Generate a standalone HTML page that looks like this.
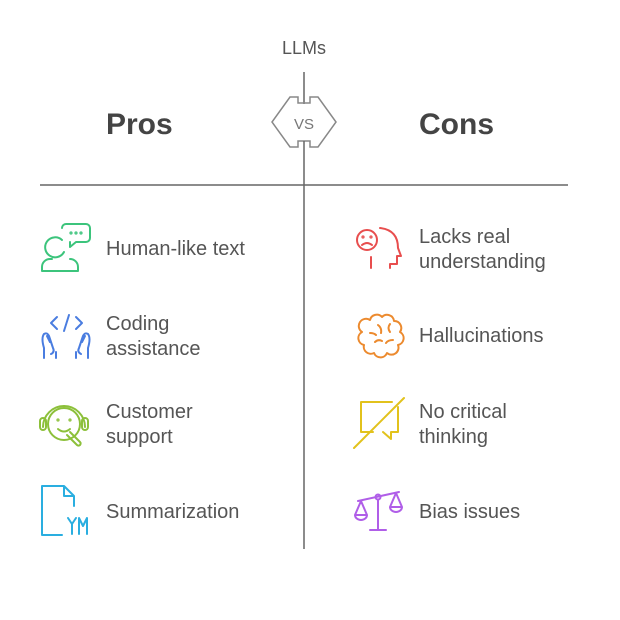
<!DOCTYPE html>
<html><head><meta charset="utf-8"><style>
html,body{margin:0;padding:0;background:#fff;width:620px;height:620px;overflow:hidden}
svg{display:block}
text{font-family:"Liberation Sans",sans-serif;fill:#555}
.t{font-size:20px}
.h{font-size:30px;font-weight:bold;fill:#444}
</style></head><body>
<svg width="620" height="620" viewBox="0 0 620 620" xmlns="http://www.w3.org/2000/svg">
<text x="304" y="54" class="t" text-anchor="middle" style="font-size:18px">LLMs</text>
<g stroke="#666" stroke-width="1.5" fill="none">
<line x1="304" y1="72" x2="304" y2="104"/>
<path d="M290,97 L298,97 L298,103 L310,103 L310,97 L318,97 L336,122 L318,147 L310,147 L310,141 L298,141 L298,147 L290,147 L272,122 Z" stroke="#888"/>
<line x1="304" y1="141" x2="304" y2="549"/>
<line x1="40" y1="185" x2="568" y2="185"/>
</g>
<text x="304" y="129" text-anchor="middle" style="font-size:15px;fill:#777">VS</text>
<text x="106" y="134" class="h">Pros</text>
<text x="419" y="134" class="h">Cons</text>

<text x="106" y="255" class="t">Human-like text</text>
<text x="106" y="330" class="t">Coding</text>
<text x="106" y="355" class="t">assistance</text>
<text x="106" y="418" class="t">Customer</text>
<text x="106" y="443" class="t">support</text>
<text x="106" y="518" class="t">Summarization</text>

<text x="419" y="243" class="t">Lacks real</text>
<text x="419" y="268" class="t">understanding</text>
<text x="419" y="342" class="t">Hallucinations</text>
<text x="419" y="418" class="t">No critical</text>
<text x="419" y="443" class="t">thinking</text>
<text x="419" y="518" class="t">Bias issues</text>

<g stroke="#3cc47c" stroke-width="2" fill="none" stroke-linecap="round" stroke-linejoin="round">
<path d="M62,228 a4,4 0 0 1 4,-4 h20 a4,4 0 0 1 4,4 v10 a4,4 0 0 1 -4,4 h-10 l-6,5 l0,-5"/>
<circle cx="71" cy="233" r="0.6"/><circle cx="76" cy="233" r="0.6"/><circle cx="81" cy="233" r="0.6"/>
<path d="M62,240 a10,10 0 1 0 2,12"/>
<path d="M42,271 v-4 a8,8 0 0 1 8,-8 h2 M70,259 a8,8 0 0 1 8,8 v4 M42,271 h36"/>
</g>
<g stroke="#4a7de0" stroke-width="2" fill="none" stroke-linecap="round" stroke-linejoin="round">
<path d="M57,317 l-6,6 l6,6 M76,317 l6,6 l-6,6 M69,315 l-5,16"/>
<path d="M44,358 v-10 q-3,-10 0,-14 q3,-2 5,2 l4,12 q2,4 -2,6 M50,342 l-3,-6 M56,358 v-6"/>
<path d="M88,358 v-10 q3,-10 0,-14 q-3,-2 -5,2 l-4,12 q-2,4 2,6 M82,342 l3,-6 M76,358 v-6"/>
</g>
<g stroke="#8cc03a" stroke-width="2" fill="none" stroke-linecap="round" stroke-linejoin="round">
<path d="M43,427 a21,21 0 0 1 42,0"/>
<rect x="40" y="418" width="6" height="12" rx="3"/>
<rect x="82" y="418" width="6" height="12" rx="3"/>
<circle cx="64" cy="424" r="16"/>
<circle cx="58" cy="420" r="0.6"/><circle cx="70" cy="420" r="0.6"/>
<path d="M58,429 q6,5 12,0"/>
<path d="M70,432 l10,10 a2,2 0 0 1 -3,3 l-10,-10"/>
</g>
<g stroke="#2aaee0" stroke-width="2" fill="none" stroke-linecap="round" stroke-linejoin="round">
<path d="M62,535 h-20 v-49 h22 l10,10 v10 M64,486 v10 h10"/>
<path d="M68,518 l4,6 l4,-6 M72,524 v10 M79,534 v-16 l4,8 l4,-8 v16"/>
</g>
<g stroke="#e84e4e" stroke-width="2" fill="none" stroke-linecap="round" stroke-linejoin="round">
<circle cx="367" cy="240" r="10"/>
<circle cx="363" cy="237" r="0.6"/><circle cx="371" cy="237" r="0.6"/>
<path d="M362,245 q5,-4 10,0"/>
<path d="M380,228 q18,2 18,20 l3,8 h-4 v8 h-7 v4"/>
<path d="M371,257 v11"/>
</g>
<g stroke="#ec8a2e" stroke-width="2" fill="none" stroke-linecap="round" stroke-linejoin="round">
<path d="M370,320 a7,7 0 0 1 12,-3 a7,7 0 0 1 12,4 a7,7 0 0 1 6,11 a7,7 0 0 1 -2,13 a7,7 0 0 1 -11,8 a7,7 0 0 1 -13,0 a7,7 0 0 1 -10,-8 a7,7 0 0 1 -2,-13 a7,7 0 0 1 8,-12 Z"/>
<path d="M378,325 q4,3 3,8 M390,324 q-3,4 0,8 M393,340 q-5,0 -7,3 M375,342 q3,-3 7,-1 M370,333 q4,0 6,2"/>
</g>
<g stroke="#e2c21c" stroke-width="2" fill="none" stroke-linecap="round" stroke-linejoin="round">
<path d="M392,402 h-31 v30 h12 M383,432 l8,7 v-7 h7 v-25"/>
<path d="M354,448 l50,-50"/>
</g>
<g stroke="#b05ee8" stroke-width="2" fill="none" stroke-linecap="round" stroke-linejoin="round">
<line x1="358" y1="501" x2="399" y2="492"/>
<circle cx="378" cy="497" r="2.5"/>
<line x1="378" y1="500" x2="378" y2="530"/>
<line x1="370" y1="530" x2="386" y2="530"/>
<path d="M361,501 l-6,14 h12 Z M355,515 a6,5 0 0 0 12,0"/>
<path d="M396,493 l-6,14 h12 Z M390,507 a6,5 0 0 0 12,0"/>
</g>
</svg>
</body></html>
